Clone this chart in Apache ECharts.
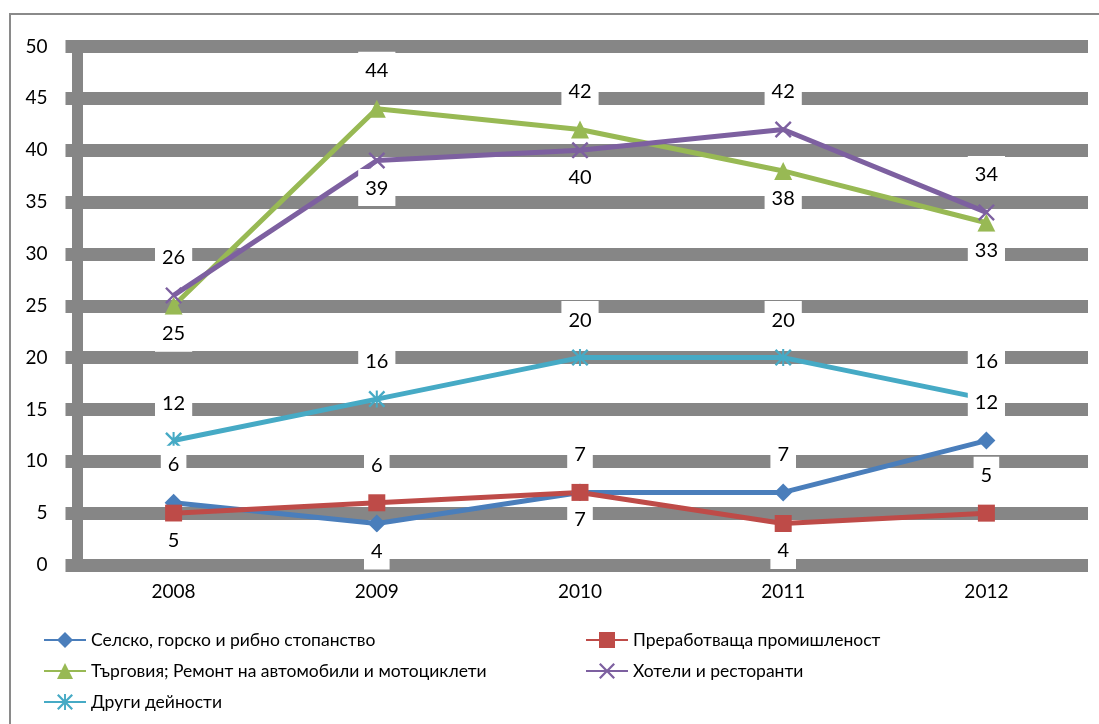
<!DOCTYPE html>
<html>
<head>
<meta charset="utf-8">
<script src="https://cdn.jsdelivr.net/npm/echarts@6/dist/echarts.min.js"></script>
<style>
  html, body { margin: 0; padding: 0; background: #fff; }
  #chart { width: 1099px; height: 724px; }
</style>
</head>
<body>
<div id="chart"></div>
<script>
// години
var years = ["2008", "2009", "2010", "2011", "2012"];
// стойности по сектори
var selsko = [6, 4, 7, 7, 12];
var prerabotvashta = [5, 6, 7, 4, 5];
var targoviya = [25, 44, 42, 38, 33];
var hoteli = [26, 39, 40, 42, 34];
var drugi = [12, 16, 20, 20, 16];
// деления на оста
var yTicks = [0, 5, 10, 15, 20, 25, 30, 35, 40, 45, 50];

// къде стои етикетът спрямо точката
var selskoPos = ["top", "bottom", "top", "top", "top"];
var prerabPos = ["bottom", "top", "bottom", "bottom", "top"];
var targPos = ["bottom", "top", "top", "bottom", "bottom"];
var hoteliPos = ["top", "bottom", "bottom", "top", "top"];
var drugiPos = ["top", "top", "top", "top", "top"];

var gray = "#868686";
var font = "Lato";

var xMark = "path://M0,1L1,0L5,4L9,0L10,1L6,5L10,9L9,10L5,6L1,10L0,9L4,5Z";
var star = "path://M0,1L1,0L5,4L9,0L10,1L6,5L10,9L9,10L5,6L1,10L0,9L4,5Z M4.4,0L5.6,0L5.6,10L4.4,10Z";

function withLabels(values, pos) {
  return values.map(function (v, i) {
    return {
      value: v,
      label: {
        position: pos[i],
        distance: pos[i] === "top" ? 11 : 0
      }
    };
  });
}

function makeSeries(name, values, pos, color, symbol, size) {
  return {
    name: name,
    type: "line",
    data: withLabels(values, pos),
    symbol: symbol,
    symbolSize: size,
    lineStyle: { width: 5, color: color },
    itemStyle: { color: color },
    label: {
      show: true,
      color: "#000",
      fontFamily: font,
      fontSize: 20,
      backgroundColor: "#fff",
      padding: [9, 7, 8, 7]
    },
    z: 3
  };
}

var legendText = { fontSize: 17.5, fontFamily: font, color: "#000" };

var chart = echarts.init(document.getElementById("chart"));
chart.setOption({
  animation: false,
  textStyle: { fontFamily: font },
  graphic: [
    {
      type: "rect",
      shape: { x: 10, y: 14, width: 1200, height: 800 },
      style: { fill: "none", stroke: "#8a8a8a", lineWidth: 2 },
      silent: true,
      z: -1
    }
  ],
  grid: { left: 72, right: 11, top: 46.5, bottom: 159 },
  legend: [
    {
      left: 38,
      top: 626,
      orient: "vertical",
      itemGap: 13,
      itemWidth: 42,
      itemHeight: 20,
      textStyle: legendText,
      data: ["Селско, горско и рибно стопанство", "Търговия; Ремонт на автомобили и мотоциклети", "Други дейности"]
    },
    {
      left: 580,
      top: 626,
      orient: "vertical",
      itemGap: 13,
      itemWidth: 42,
      itemHeight: 20,
      textStyle: legendText,
      data: ["Преработваща промишленост", "Хотели и ресторанти"]
    }
  ],
  xAxis: {
    type: "category",
    data: years,
    boundaryGap: true,
    axisLine: { show: false },
    axisTick: { show: false },
    axisLabel: { color: "#000", fontSize: 19, fontFamily: font, margin: 17 }
  },
  yAxis: {
    type: "value",
    min: yTicks[0],
    max: yTicks[yTicks.length - 1],
    interval: 5,
    offset: -5.5,
    axisLine: { show: true, lineStyle: { color: gray, width: 11, cap: "square" } },
    axisTick: { show: true, length: 12, lineStyle: { color: gray, width: 13 } },
    axisLabel: { color: "#000", fontSize: 19, fontFamily: font, margin: 30 },
    splitLine: { show: true, lineStyle: { color: gray, width: 13 } }
  },
  series: [
    makeSeries("Селско, горско и рибно стопанство", selsko, selskoPos, "#4A7EBB", "diamond", 18),
    makeSeries("Преработваща промишленост", prerabotvashta, prerabPos, "#BE4B48", "rect", 17),
    makeSeries("Търговия; Ремонт на автомобили и мотоциклети", targoviya, targPos, "#98B954", "triangle", 18),
    makeSeries("Хотели и ресторанти", hoteli, hoteliPos, "#7D60A0", xMark, 17),
    makeSeries("Други дейности", drugi, drugiPos, "#46AAC5", star, 17)
  ]
});
</script>
</body>
</html>
